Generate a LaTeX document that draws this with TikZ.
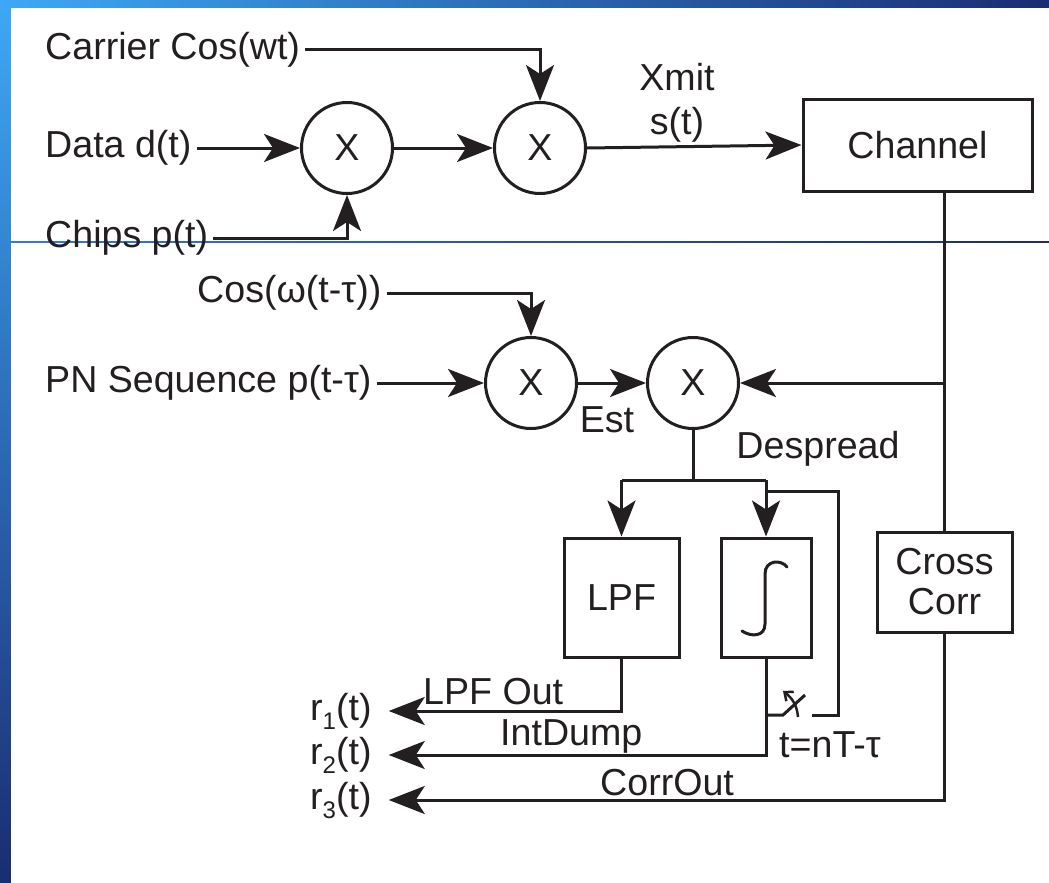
\documentclass[tikz,border=0pt]{standalone}
\usepackage{fontspec}
\setmainfont{Liberation Sans}
\usetikzlibrary{arrows.meta}
\definecolor{ink}{HTML}{231F20}
\definecolor{bglight}{HTML}{3EA8F6}
\definecolor{bgmid}{HTML}{3377E6}
\definecolor{bgdark}{HTML}{1A2C72}
\newcommand\sbs[1]{\raisebox{-9pt}{\fontsize{24pt}{24pt}\selectfont #1}}
\begin{document}
\begin{tikzpicture}[x=1pt,y=-1pt,
  every node/.style={font=\fontsize{37.6pt}{44pt}\selectfont, text=ink, inner sep=0pt},
  wire/.style={draw=ink, line width=3pt},
  arr/.style={wire, -{Stealth[length=36pt,width=28pt,inset=9pt]}},
  mult/.style={circle, draw=ink, line width=3pt, minimum size=91pt, inner sep=0pt},
  blk/.style={rectangle, draw=ink, line width=3pt, inner sep=0pt},
  src/.style={anchor=west, inner xsep=5pt},
  lbl/.style={anchor=west},
]
\useasboundingbox (0,0) rectangle (1049,883);
% slide background
\shade[top color=bglight, middle color=bgmid, bottom color=bgdark] (0,0) rectangle (11,883);
\shade[left color=bglight, middle color=bgmid, right color=bgdark] (0,0) rectangle (1049,8);
\fill[white] (11,8) rectangle (1049,883);
\shade[left color=bgmid, right color=bgdark] (11,241.2) rectangle (1049,242.8);

% transmitter
\node[src] (carrier) at (40,50) {Carrier Cos(wt)};
\node[src] (data) at (40,148) {Data d(t)};
\node[src] (chips) at (40,238) {Chips p(t)};
\node[mult] (m1) at (347,148) {X};
\node[mult] (m2) at (540,148) {X};
\node[blk, minimum width=229pt, minimum height=92pt] (channel) at (917.5,145) {Channel};
\node[align=center] (xmit) at (677,103) {Xmit\\s(t)};

\draw[arr] (data.east) -- (m1.west);
\draw[arr] (chips.east) -| (m1.south);
\draw[arr] (carrier.east) -| (m2.north);
\draw[arr] (m1.east) -- (m2.west);
\draw[arr] (m2.east) -- (channel.west);

% receiver
\node[src] (cosw) at (192,293) {Cos(ω(t-τ))};
\node[src] (pn) at (40,383) {PN Sequence p(t-τ)};
\node[mult] (m3) at (531,383) {X};
\node[mult] (m4) at (693,383) {X};
\node (est) at (607,420) {Est};
\node (despread) at (818,449) {Despread};
\node[blk, minimum width=115pt, minimum height=119pt] (lpf) at (621.5,597.5) {LPF};
\node[blk, minimum width=90pt, minimum height=119pt] (int) at (766,597.5) {};
\node[blk, minimum width=135pt, minimum height=100pt, align=center, font=\fontsize{37.6pt}{40pt}\selectfont] (cc) at (944.5,582) {Cross\\Corr};

\draw[arr] (pn.east) -- (m3.west);
\draw[arr] (cosw.east) -| (m3.north);
\draw[arr] (m3.east) -- (m4.west);
\draw[arr] (channel.south -| cc.north) |- (m4.east);
\draw[wire] (cc.north |- m4.east) -- (cc.north);

% split to filters
\coordinate (split) at (693,480);
\draw[wire] (m4.south) -- (split);
\draw[wire] (lpf.north |- split) -- (int.north |- split);
\draw[arr] (lpf.north |- split) -- (lpf.north);
\draw[arr] (int.north |- split) -- (int.north);

% integral sign
\draw[wire, line cap=round] (787,567) .. controls (781,559) and (765,560) .. (765,574)
  -- (765,624) .. controls (765,637) and (751,637) .. (742,631);

% feedback / dump switch
\coordinate (fbtop) at (766,491);
\coordinate (fbcorner) at (838,491);
\coordinate (fbend) at (812,715);
\draw[wire] (fbtop) -- (fbcorner) |- (fbend);
\coordinate (sw) at (766,715);
\draw[wire] (sw) -- ++(17,0) -- ++(22,-20);
\draw[draw=ink, line width=2.5pt, -{Straight Barb[length=7pt,width=12pt]}] (798,717) .. controls (797,705) and (792,698) .. (783,691);
\node (tn) at (830,745) {t=nT-τ};

% outputs
\node[lbl] (r1) at (310,711) {r\sbs{1}(t)};
\node[lbl] (r2) at (310,755) {r\sbs{2}(t)};
\node[lbl] (r3) at (310,800) {r\sbs{3}(t)};
\node[lbl] (lpfout) at (423,692) {LPF Out};
\node[lbl] (intdump) at (500,736) {IntDump};
\node[lbl] (corrout) at (600,783) {CorrOut};

\draw[arr] (lpf.south) |- ([xshift=17pt]r1.east);
\draw[arr] (int.south) |- ([xshift=17pt]r2.east);
\draw[arr] (cc.south) |- ([xshift=17pt]r3.east);
\end{tikzpicture}
\end{document}
